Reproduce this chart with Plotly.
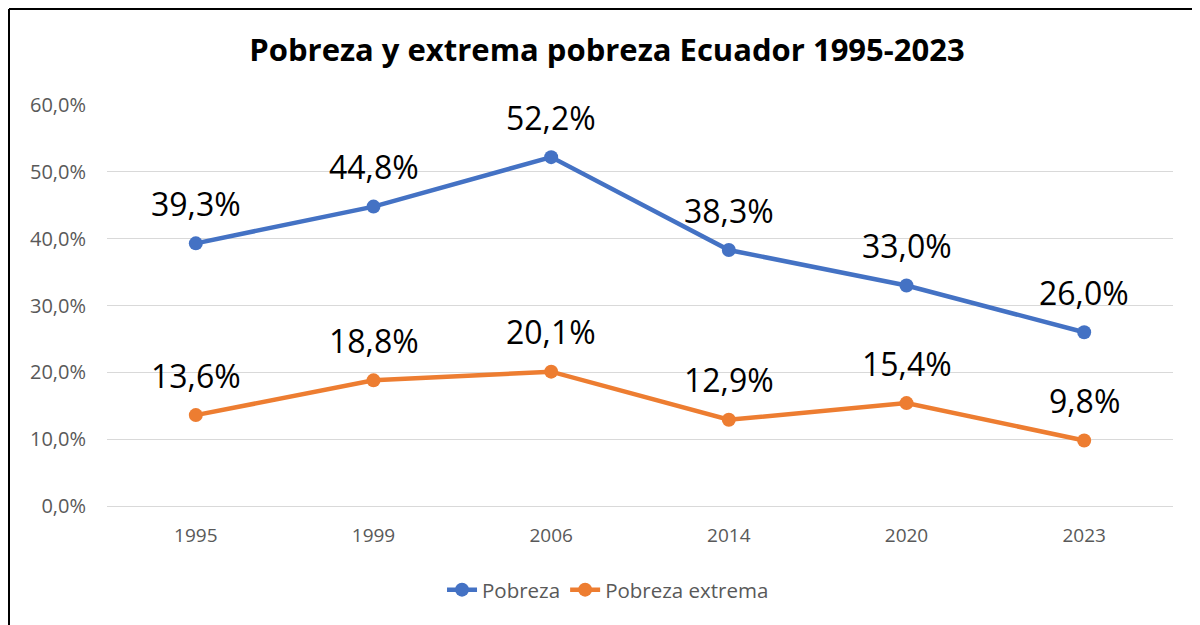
import plotly.graph_objects as go

years = ["1995", "1999", "2006", "2014", "2020", "2023"]
pobreza = [39.3, 44.8, 52.2, 38.3, 33.0, 26.0]
pobreza_extrema = [13.6, 18.8, 20.1, 12.9, 15.4, 9.8]
series_names = ["Pobreza", "Pobreza extrema"]
colors = ["#4472C4", "#ED7D31"]
title = "Pobreza y extrema pobreza Ecuador 1995-2023"

FONT = "'Open Sans', sans-serif"

W, H = 1192, 617
ML, MR, MT, MB = 99, 27, 97, 119
PW, PH = W - ML - MR, H - MT - MB

fig = go.Figure()
annotations = []
for name, vals, col in zip(series_names, [pobreza, pobreza_extrema], colors):
    fig.add_trace(go.Scatter(
        x=years, y=vals, name=name, mode="lines+markers",
        line=dict(color=col, width=4.5),
        marker=dict(color=col, size=14),
    ))
    for i, v in enumerate(vals):
        annotations.append(dict(
            x=i, y=v, xref="x", yref="y", text=f"{v:.1f}".replace(".", ",") + "%",
            showarrow=False, yshift=40, font=dict(size=32, color="#000000", family=FONT),
        ))

fx = (1 - ML) / PW
fy = (PH + MT - 1) / PH

fig.update_layout(
    width=W, height=H,
    margin=dict(l=ML, r=MR, t=MT, b=MB),
    paper_bgcolor="white", plot_bgcolor="white",
    separators=",.",
    title=dict(text=f"<b>{title}</b>", x=599 / W, xanchor="center", y=1 - 42 / H, yanchor="middle",
               font=dict(size=31, color="#000000", family=FONT)),
    xaxis=dict(type="category", range=[-0.5, 5.5], showgrid=False, showline=False,
               ticks="", ticklabelstandoff=16,
               tickfont=dict(size=19, color="#595959", family=FONT)),
    yaxis=dict(range=[0, 60], dtick=10, tickformat=".1f", ticksuffix="%",
               showgrid=True, gridcolor="#D9D9D9", gridwidth=1.3,
               zeroline=True, zerolinecolor="#D9D9D9", zerolinewidth=1.3,
               showline=False, ticks="", ticklen=0, ticklabelstandoff=20,
               tickfont=dict(size=20, color="#595959", family=FONT)),
    legend=dict(orientation="h", x=0.47, xanchor="center", y=-0.209, yanchor="middle",
                font=dict(size=20.5, color="#595959", family=FONT)),
    showlegend=True,
    annotations=annotations,
    shapes=[
        dict(type="line", xref="paper", yref="paper", x0=fx, x1=fx, y0=-0.5, y1=fy,
             line=dict(color="#000000", width=2)),
        dict(type="line", xref="paper", yref="paper", x0=fx, x1=1.2, y0=fy, y1=fy,
             line=dict(color="#000000", width=2)),
    ],
)

fig.write_html("out.html")
